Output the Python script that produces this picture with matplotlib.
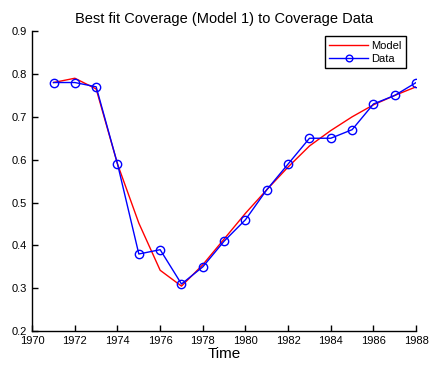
import numpy as np
import matplotlib
matplotlib.use("Agg")
from matplotlib import pyplot as plt

plt.rcParams['font.family'] = ['Liberation Sans', 'DejaVu Sans']

years = [1971, 1972, 1973, 1974, 1975, 1976, 1977, 1978, 1979,
         1980, 1981, 1982, 1983, 1984, 1985, 1986, 1987, 1988]
data = [0.78, 0.78, 0.77, 0.59, 0.38, 0.39, 0.31, 0.35, 0.41,
        0.46, 0.53, 0.59, 0.65, 0.65, 0.67, 0.73, 0.75, 0.78]
model = [0.78, 0.79, 0.765, 0.59, 0.452, 0.342, 0.305, 0.355, 0.415,
         0.475, 0.53, 0.583, 0.632, 0.668, 0.70, 0.728, 0.75, 0.77]

fig = plt.figure(figsize=(4.29, 3.70), dpi=100)
ax = fig.add_axes([0.075, 0.105, 0.895, 0.811])

ax.plot(years, model, color='red', lw=1, label='Model')
ax.plot(years, data, color='blue', lw=1, marker='o', ms=6,
        mfc='none', mec='blue', label='Data')

ax.set_xlim(1970, 1988)
ax.set_ylim(0.2, 0.9)
ax.set_xticks(np.arange(1970, 1989, 2))
ax.set_yticks(np.arange(0.2, 0.91, 0.1))
ax.set_yticklabels(['0.2', '0.3', '0.4', '0.5', '0.6', '0.7', '0.8', '0.9'])
ax.tick_params(direction='in', labelsize=8, length=4, width=1)
for s in ['top', 'right']:
    ax.spines[s].set_visible(False)
for s in ['left', 'bottom']:
    ax.spines[s].set_linewidth(1)

ax.set_title('Best fit Coverage (Model 1) to Coverage Data', fontsize=10.5)
ax.set_xlabel('Time', fontsize=11, labelpad=1)

leg = ax.legend(loc='upper right', fontsize=8, fancybox=False,
                edgecolor='black', framealpha=1, handlelength=3.5,
                borderpad=0.4, labelspacing=0.3, handletextpad=0.3,
                markerscale=0.8, borderaxespad=0,
                bbox_to_anchor=(0.974, 0.983))
leg.get_frame().set_linewidth(1)

fig.savefig('out.png', dpi=100)
